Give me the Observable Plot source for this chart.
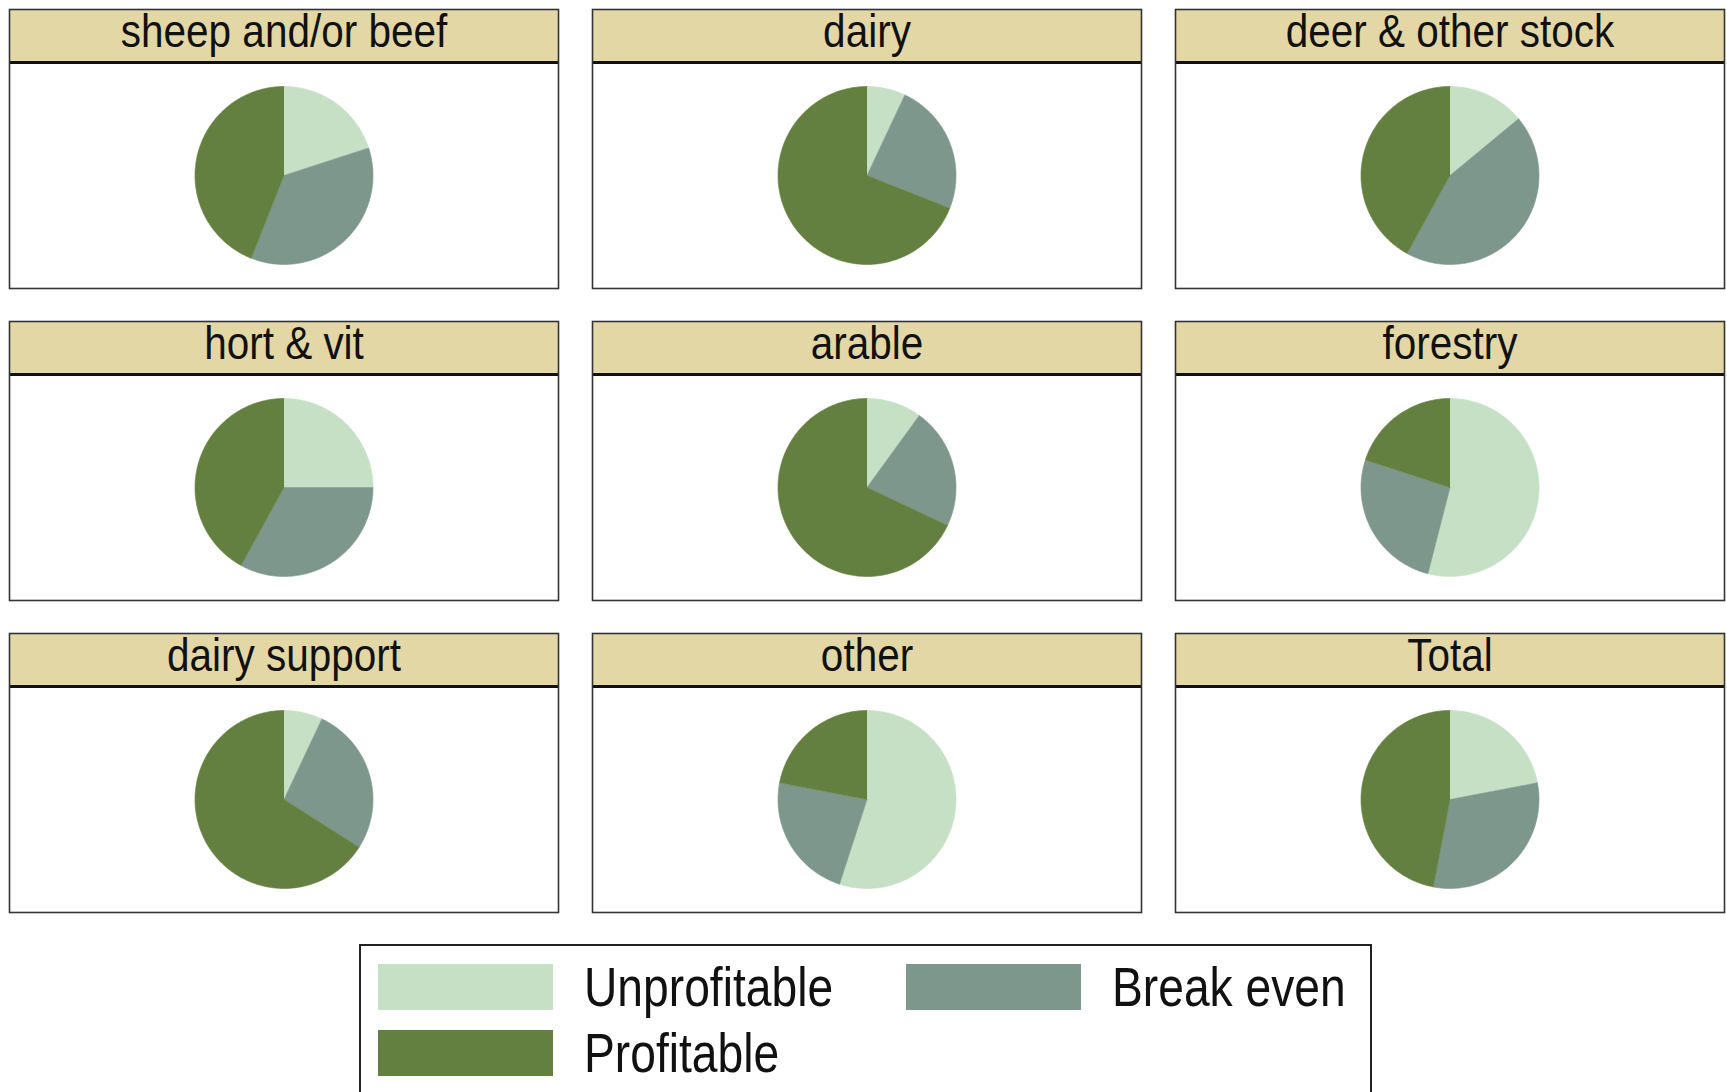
<!DOCTYPE html>
<html>
<head>
<meta charset="utf-8">
<script src="https://cdn.jsdelivr.net/npm/d3@7"></script>
<script src="https://cdn.jsdelivr.net/npm/@observablehq/plot@0.6"></script>
<style>
html, body { margin:0; padding:0; background:#fff; overflow:hidden; }
#chart svg { display:block; }
#legendBox { position:absolute; left:359px; top:944px; width:1013px; height:200px; border:2px solid #222; box-sizing:border-box; padding:18px 0 0 17px; background:#fff; }
.lg-swatches { font-family:"Liberation Sans",Arial,sans-serif !important; font-size:55px !important; line-height:46px; margin:0 !important; color:#111; width:1100px; }
.lg-swatches-wrap { row-gap:20px; min-height:0 !important; }
.lg-swatches-wrap .lg-swatch { margin-right:0 !important; }
.lg-swatch:nth-of-type(1), .lg-swatch:nth-of-type(3) { min-width:528px; }
.lg-swatch > svg { margin-right:31px !important; }
.lg-narrow { display:inline-block; transform:scaleX(0.84); transform-origin:left center; white-space:nowrap; }
</style>
</head>
<body>
<div id="chart"></div>
<div id="legendBox"></div>
<script>
// ---- data ----
const panels = ["sheep and/or beef", "dairy", "deer & other stock", "hort & vit", "arable", "forestry", "dairy support", "other", "Total"];
const categories = ["Unprofitable", "Break even", "Profitable"];
const colors = ["#c5e0c5", "#7d978c", "#648040"];
const unprofitable = [20, 7, 14, 25, 10, 54, 7, 55, 22];
const breakEven    = [36, 24, 44, 33, 22, 26, 27, 23, 31];
const profitable   = [44, 69, 42, 42, 68, 20, 66, 22, 47];

// ---- layout ----
const W = 1727, H = 920;
const R = 89;            // pie radius in px
const band = 549, colStep = 583;
const rowBand = 279, rowStep = 312, hdr = 53;
const xHalf = band / 2 / R;
const yLo = -(rowBand - hdr) / 2 / R;
const yHdr = (rowBand - hdr) / 2 / R;
const yHi = yHdr + hdr / R;
const font = '"Liberation Sans",Arial,sans-serif';

// ---- slice outlines built from the values ----
const slices = [];
panels.forEach((p, i) => {
  const vals = [unprofitable[i], breakEven[i], profitable[i]];
  const arcs = d3.pie().sort(null).value(d => d)(vals);
  arcs.forEach((a, k) => {
    const base = {panel: p, col: i % 3, row: Math.floor(i / 3), cat: categories[k]};
    slices.push({...base, x: 0, y: 0});
    const n = Math.max(2, Math.ceil((a.endAngle - a.startAngle) / (Math.PI / 180)));
    for (let j = 0; j <= n; j++) {
      const t = a.startAngle + (a.endAngle - a.startAngle) * j / n;
      slices.push({...base, x: Math.sin(t), y: Math.cos(t)});
    }
  });
});

const chart = Plot.plot({
  width: W,
  height: H,
  marginLeft: 9,
  marginRight: W - 9 - (2 * colStep + band),
  marginTop: 9,
  marginBottom: H - 9 - (2 * rowStep + rowBand),
  style: {background: "#fff", fontFamily: font},
  fx: {domain: [0, 1, 2], axis: null, paddingInner: (colStep - band) / colStep, paddingOuter: 0, round: false},
  fy: {domain: [0, 1, 2], axis: null, paddingInner: (rowStep - rowBand) / rowStep, paddingOuter: 0, round: false},
  x: {domain: [-xHalf, xHalf], axis: null},
  y: {domain: [yLo, yHi], axis: null},
  color: {domain: categories, range: colors},
  marks: [
    Plot.rect([0], {y1: yHdr, y2: yHi, fill: "#e3d8a5"}),
    Plot.line(slices, {x: "x", y: "y", z: "cat", fill: "cat", stroke: "cat", strokeWidth: 0.6, fx: "col", fy: "row", curve: "linear"}),
    Plot.ruleY([yHdr], {stroke: "#111", strokeWidth: 3}),
    Plot.frame({stroke: "#333", strokeWidth: 1.6}),
    Plot.text(panels, {fx: (d, i) => i % 3, fy: (d, i) => Math.floor(i / 3), text: d => d, frameAnchor: "top", lineAnchor: "bottom", dy: 37, fontSize: 46, fontFamily: font, fill: "#111"})
  ]
});
document.getElementById("chart").appendChild(chart);

// condense the header lettering (the original uses a narrow face)
chart.querySelectorAll("text").forEach(t => {
  const len = t.getComputedTextLength();
  t.setAttribute("textLength", (len * 0.88).toFixed(1));
  t.setAttribute("lengthAdjust", "spacingAndGlyphs");
});

const legend = chart.legend("color", {legend: "swatches", swatchWidth: 175, swatchHeight: 46, className: "lg"});
document.getElementById("legendBox").appendChild(legend);
legend.querySelectorAll(".lg-swatch").forEach(item => {
  Array.from(item.childNodes).forEach(node => {
    if (node.nodeType === 3 && node.textContent.trim()) {
      const s = document.createElement("span");
      s.className = "lg-narrow";
      s.textContent = node.textContent;
      item.replaceChild(s, node);
    } else if (node.nodeType === 1 && node.tagName.toLowerCase() === "span") {
      node.classList.add("lg-narrow");
    }
  });
});
</script>
</body>
</html>
